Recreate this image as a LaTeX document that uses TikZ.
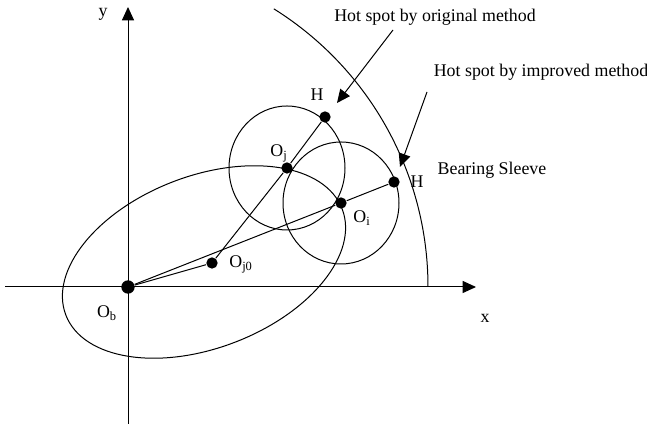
\documentclass[tikz,border=0pt]{standalone}
\usepackage{fontspec}
\setmainfont{Liberation Serif}
\usepackage{tikz}
\usetikzlibrary{arrows.meta,positioning}

\begin{document}
\begin{tikzpicture}[>={Triangle[length=10pt,width=9pt]}, x=0.75pt, y=0.75pt, line width=0.75pt,
    dot/.style={circle, fill, inner sep=0pt, minimum size=8.5pt},
    lbl/.style={font=\fontsize{13.4}{15}\selectfont, inner sep=0pt}]
        \useasboundingbox (0,0) rectangle (647,424);

        % axes
        \coordinate (xl) at (5,137);
        \coordinate (xr) at (476,137);
        \coordinate (yb) at (128,0);
        \coordinate (yt) at (128,417);
        \draw[->] (xl) -- (xr);
        \draw[->] (yb) -- (yt);
        \node (xlab) [lbl] at (485,106) {x};
        \node (ylab) [lbl] at (103,410) {y};

        % centres and hot spots
        \node (ob) [dot, minimum size=10pt] at (128,137) {};
        \node (oj0) [dot] at (212,161) {};
        \node (oj) [dot] at (287,256) {};
        \node (oi) [dot] at (341,221) {};
        \node (h1) [dot] at (325,307) {};
        \node (h2) [dot] at (394,242) {};

        \draw (ob) -- (oj0) -- (oj) -- (h1);
        \draw (ob) -- (oi) -- (h2);

        \draw (oj) ellipse [x radius=58, y radius=62];
        \draw (oi) ellipse [x radius=58, y radius=61];
        \draw[rotate around={21:(204,162)}] (204,162) ellipse [x radius=148, y radius=86];

        % bearing sleeve
        \draw (428,137) arc [start angle=0, end angle=58, radius=328];

        \node (lob) [lbl] at (107,111) {O\textsubscript{b}};
        \node (loj0) [lbl] at (241,160) {O\textsubscript{j0}};
        \node (loj) [lbl] at (279,271) {O\textsubscript{j}};
        \node (loi) [lbl] at (362,206) {O\textsubscript{i}};
        \node (lh1) [lbl] at (317,329) {H};
        \node (lh2) [lbl] at (417,242) {H};

        \node (orig) [lbl] at (435,407) {Hot spot by original method};
        \node (impr) [lbl] at (541,352) {Hot spot by improved method};
        \node (sleeve) [lbl] at (492,254) {Bearing Sleeve};

        \coordinate (s1) at (393,394);
        \coordinate (e1) at (337,321);
        \coordinate (s2) at (427,332);
        \coordinate (e2) at (400,257);
        \draw[->] (s1) -- (e1);
        \draw[->] (s2) -- (e2);
      \end{tikzpicture}
\end{document}
